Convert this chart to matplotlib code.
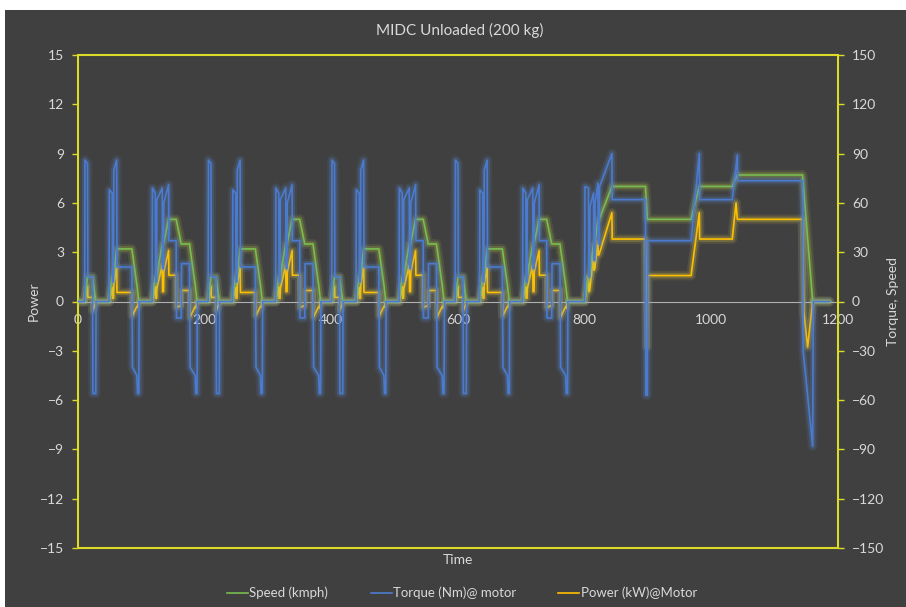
import numpy as np
import matplotlib
matplotlib.use("Agg")
import matplotlib.pyplot as plt
from matplotlib.lines import Line2D
from matplotlib.patches import Rectangle

plt.rcParams['font.family'] = ['Lato', 'DejaVu Sans']

# ---------------- data ----------------
# urban part (ECE-type cycle, 195 s, repeated 4 times) -- times within a cycle
URBAN_PERIOD = 195
N_URBAN = 4
urban_t_speed = [0, 11, 15, 23, 28, 49, 54, 56, 61, 85, 93, 96, 117, 122, 124, 133, 135, 143,
                 155, 163, 176, 185, 188, 195]
urban_speed = [0, 0, 15, 15, 0, 0, 15, 15, 32, 32, 10, 0, 0, 15, 15, 35, 35, 50,
               50, 35, 35, 10, 0, 0]

urban_t_torque = [0, 10.5, 11, 15, 15.5, 23, 23.5, 28, 28.5, 49, 49.5, 54, 54.5, 56, 56.5, 61, 61.5,
                  85, 86, 93, 94, 96, 96.5, 117, 117.5, 122, 122.5, 124, 124.5, 133, 133.5, 135, 135.5,
                  143, 143.5, 155, 155.5, 163, 163.5, 176, 177, 185, 186, 188, 188.5, 195]
urban_torque = [0, 0, 86, 84, 15, 15, -56, -56, 0, 0, 68, 66, 12, 12, 80, 86, 21,
                21, -40, -45, -56, -56, 0, 0, 69, 66, 12, 12, 62, 69, 20, 20, 60,
                71, 37, 37, -10, -10, 23, 23, -40, -45, -56, -56, 0, 0]

urban_t_power = [0, 11, 11.5, 15, 15.5, 23, 23.5, 28, 28.5, 49, 49.5, 54, 54.5, 56, 56.5, 61, 61.5,
                 85, 86, 93, 94, 96, 117, 117.5, 122, 122.5, 124, 124.5, 133, 133.5, 135, 135.5,
                 143, 143.5, 155, 155.5, 163, 163.5, 176, 177, 185, 186, 188, 195]
urban_power = [0, 0, 0.2, 0.9, 0.25, 0.25, -0.55, -0.1, 0, 0, 0.1, 0.85, 0.2, 0.2, 1.0, 2.1, 0.55,
               0.55, -0.85, -0.3, -0.35, 0, 0, 0.1, 0.9, 0.2, 0.2, 0.8, 2.2, 0.6, 0.6, 1.8,
               3.1, 1.6, 1.6, -0.35, -0.25, 0.67, 0.67, -0.95, -0.3, -0.4, 0, 0]

# extra-urban part (absolute times)
eudc_t_speed = [780, 800, 806, 808, 814, 816, 821, 823, 843, 896, 899, 968, 981, 1033, 1041,
                1144, 1160, 1186]
eudc_speed = [0, 0, 15, 15, 35, 35, 50, 50, 70, 70, 50, 50, 70, 70, 77,
              77, 0, 0]

eudc_t_torque = [780, 800, 800.5, 806, 806.5, 808, 808.5, 814, 814.5, 816, 816.5, 821, 821.5, 823,
                 823.5, 843, 843.5, 896, 896.5, 899, 899.5, 968, 981, 981.5, 1033, 1041, 1041.5,
                 1144, 1145, 1160, 1161, 1186]
eudc_torque = [0, 0, 70, 69, 15, 15, 58, 66, 25, 25, 60, 72, 35, 35,
               70, 90, 62, 62, -57, -57, 37, 37, 90, 62, 62, 89, 73.5,
               73.5, -30, -88, 0, 0]

eudc_t_power = [780, 800, 806, 806.5, 808, 814, 814.5, 816, 821, 821.5, 823, 843, 843.5,
                896, 898.5, 899.5, 968, 981, 981.5, 1033, 1039, 1041, 1144, 1146, 1152, 1160, 1186]
eudc_power = [0, 0, 1.5, 0.6, 0.7, 2.8, 1.9, 2.0, 3.6, 2.8, 2.9, 5.4, 3.8,
              3.8, -2.77, 1.58, 1.58, 5.4, 3.8, 3.8, 6.0, 5.0, 5.0, -0.6, -2.77, 0, 0]

x_ticks = [0, 200, 400, 600, 800, 1000, 1200]
left_ticks = [-15, -12, -9, -6, -3, 0, 3, 6, 9, 12, 15]
right_ticks = [-150, -120, -90, -60, -30, 0, 30, 60, 90, 120, 150]

series_names = ["Speed (kmph)", "Torque (Nm)@ motor", "Power (kW)@Motor"]


def build(t_urban, v_urban, t_eudc, v_eudc):
    ts, vs = [], []
    for k in range(N_URBAN):
        ts.append(np.asarray(t_urban, float) + k * URBAN_PERIOD)
        vs.append(np.asarray(v_urban, float))
    ts.append(np.asarray(t_eudc, float))
    vs.append(np.asarray(v_eudc, float))
    return np.concatenate(ts), np.concatenate(vs)


t_sp, speed = build(urban_t_speed, urban_speed, eudc_t_speed, eudc_speed)
t_tq, torque = build(urban_t_torque, urban_torque, eudc_t_torque, eudc_torque)
t_pw, power = build(urban_t_power, urban_power, eudc_t_power, eudc_power)

# ---------------- style ----------------
BG = '#404040'
FRAME = '#DCDC28'
TXT = '#D9D9D9'
C_SPEED = '#78BE50'
C_TORQUE = '#4A7BD0'
C_POWER = '#FFC000'

fig = plt.figure(figsize=(9.06, 6.07), dpi=100, facecolor='white')
fig.patches.append(Rectangle((5 / 906, 0), 1, 1 - 10 / 607, transform=fig.transFigure,
                             facecolor=BG, edgecolor='none', zorder=-10))

L, R, B, T = 78 / 906, 838 / 906, 1 - 548 / 607, 1 - 55 / 607
ax = fig.add_axes([L, B, R - L, T - B])
ax.set_facecolor('none')
ax2 = ax.twinx()
ax2.set_facecolor('none')


def glow_plot(a, x, y, color, glow):
    a.plot(x, y, color=glow, lw=7, alpha=0.10, solid_joinstyle='round', solid_capstyle='round')
    a.plot(x, y, color=glow, lw=4, alpha=0.20, solid_joinstyle='round', solid_capstyle='round')
    a.plot(x, y, color=color, lw=1.2)


glow_plot(ax, t_pw, power, C_POWER, '#FFE040')
glow_plot(ax2, t_sp, speed, C_SPEED, '#C8E040')
glow_plot(ax2, t_tq, torque, C_TORQUE, '#6090E0')

ax.set_xlim(0, 1200)
ax.set_ylim(-15, 15)
ax2.set_ylim(-150, 150)
ax.set_xticks(x_ticks)
ax.set_xticklabels([str(v) for v in x_ticks])
ax.set_yticks(left_ticks)
ax2.set_yticks(right_ticks)

for a in (ax, ax2):
    for s in a.spines.values():
        s.set_visible(False)

ax.spines['bottom'].set_visible(True)
ax.spines['bottom'].set_position(('data', 0))
ax.spines['bottom'].set_color('#B0B0B0')
ax.spines['bottom'].set_linewidth(0.8)
ax.tick_params(axis='x', length=0, pad=9, colors=TXT, labelsize=10)
ax.tick_params(axis='y', direction='out', length=4, width=1, color=FRAME, labelcolor=TXT,
               labelsize=10, pad=6)
ax2.tick_params(axis='y', direction='out', length=4, width=1, color=FRAME, labelcolor=TXT,
                labelsize=10, pad=6)

ax.add_patch(Rectangle((0, 0), 1, 1, transform=ax.transAxes, fill=False,
                       edgecolor=FRAME, lw=1.5, clip_on=False, zorder=5))

ax.set_ylabel('Power', color=TXT, fontsize=10, labelpad=0)
ax2.set_ylabel('Torque, Speed', color=TXT, fontsize=10, labelpad=2)

fig.text(460 / 906, 1 - 30 / 607, 'MIDC Unloaded (200 kg)', color=TXT, fontsize=11,
         ha='center', va='center')
fig.text(458 / 906, 1 - 560 / 607, 'Time', color=TXT, fontsize=10, ha='center', va='center')

handles = [Line2D([], [], color=C_SPEED, lw=1.2),
           Line2D([], [], color=C_TORQUE, lw=1.2),
           Line2D([], [], color=C_POWER, lw=1.2)]
leg = fig.legend(handles, series_names, loc='center', bbox_to_anchor=(462 / 906, 1 - 593 / 607),
                 ncol=3, frameon=False, fontsize=9.5, handlelength=1.6, handletextpad=0.1,
                 columnspacing=3.2)
for txt in leg.get_texts():
    txt.set_color(TXT)

fig.savefig('out.png', dpi=100, facecolor=fig.get_facecolor())
